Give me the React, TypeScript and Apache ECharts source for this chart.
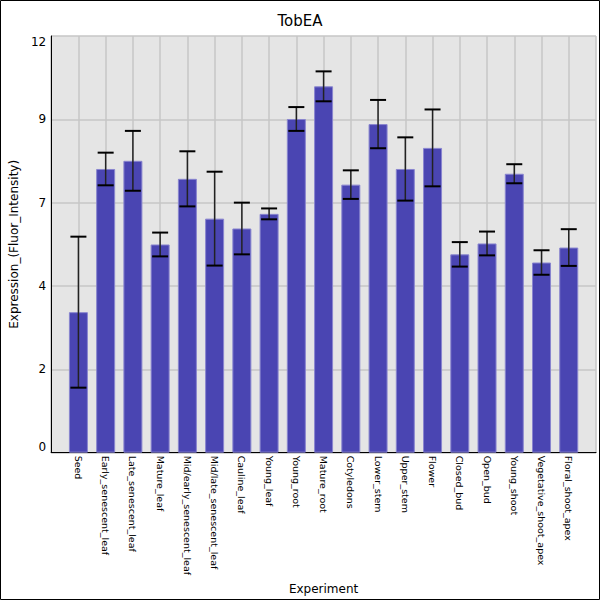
import { useEffect, useRef } from "react";
import * as echarts from "echarts";

// tissue names, in the order they appear on the x axis
const experiments = [
  "Seed", "Early_senescent_leaf", "Late_senescent_leaf", "Mature_leaf",
  "Mid/early_senescent_leaf", "Mid/late_senescent_leaf", "Cauline_leaf",
  "Young_leaf", "Young_root", "Mature_root", "Cotyledons", "Lower_stem",
  "Upper_stem", "Flower", "Closed_bud", "Open_bud", "Young_shoot",
  "Vegetative_shoot_apex", "Floral_shoot_apex",
];

// mean expression per tissue
const means = [
  4.13, 8.34, 8.58, 6.12, 8.05, 6.88, 6.59, 7.02, 9.81, 10.77,
  7.88, 9.66, 8.34, 8.96, 5.83, 6.15, 8.2, 5.59, 6.03,
];

// error (half length of each bar)
const errors = [
  2.22, 0.48, 0.88, 0.35, 0.81, 1.38, 0.76, 0.16, 0.35, 0.44,
  0.42, 0.71, 0.93, 1.13, 0.36, 0.35, 0.28, 0.36, 0.54,
];

const yMax = 12.25;
const yStep = 2.45;

const font = "DejaVu Sans";

export default function App() {
  const chartRef = useRef<HTMLDivElement>(null);

  useEffect(() => {
    document.body.style.margin = "0";
    if (!chartRef.current) return;
    const chart = echarts.init(chartRef.current, undefined, { renderer: "svg" });

    // one empty slot at each end leaves the gap seen left and right of the bars
    const cats = ["", ...experiments, ""];
    const barData = ["-", ...means, "-"];
    const errData = means.map((m, i) => [i + 1, m - errors[i], m + errors[i]]);

    chart.setOption({
      animation: false,
      backgroundColor: "#fff",
      textStyle: { fontFamily: font },
      title: {
        text: "TobEA",
        left: "center",
        top: 13,
        padding: 0,
        textStyle: { fontFamily: font, fontSize: 15, fontWeight: "normal", color: "#000" },
      },
      graphic: [
        {
          type: "rect",
          shape: { x: 0.5, y: 0.5, width: 599, height: 599 },
          style: { fill: "none", stroke: "#000", lineWidth: 1 },
          silent: true,
        },
      ],
      grid: {
        left: 50,
        top: 36,
        right: 4,
        bottom: 146,
        show: true,
        backgroundColor: "#e5e5e5",
        borderWidth: 0,
      },
      xAxis: {
        type: "category",
        data: cats,
        boundaryGap: false,
        name: "Experiment",
        nameLocation: "middle",
        nameGap: 124,
        nameTextStyle: { fontFamily: font, fontSize: 12, color: "#000" },
        axisLine: { lineStyle: { color: "#000", width: 1 } },
        axisTick: { show: false },
        axisLabel: {
          interval: 0,
          rotate: -90,
          margin: 3,
          fontFamily: font,
          fontSize: 9.5,
          color: "#000",
        },
        splitLine: { show: true, interval: 0, lineStyle: { color: "#c6c6c6", width: 1.5 } },
      },
      yAxis: {
        type: "value",
        min: 0,
        max: yMax,
        interval: yStep,
        name: "Expression_(Fluor_Intensity)",
        nameLocation: "middle",
        nameGap: 23,
        nameTextStyle: { fontFamily: font, fontSize: 12, color: "#000" },
        axisLine: { show: true, lineStyle: { color: "#000", width: 1 } },
        axisTick: { show: false },
        axisLabel: {
          margin: 5,
          fontFamily: font,
          fontSize: 12,
          color: "#000",
          verticalAlignMinLabel: "bottom",
          verticalAlignMaxLabel: "top",
          formatter: (v: number) => String(Math.floor(v + 1e-6)),
        },
        splitLine: { show: true, lineStyle: { color: "#c6c6c6", width: 1.5 } },
      },
      series: [
        {
          type: "bar",
          data: barData,
          barWidth: 19,
          itemStyle: { color: "#4a45b2", borderColor: "#8985cf", borderWidth: 1 },
          z: 2,
        },
        {
          type: "custom",
          data: errData,
          encode: { x: 0, y: [1, 2] },
          z: 3,
          renderItem: (_params: any, api: any) => {
            const x = api.value(0);
            const top = api.coord([x, api.value(2)]);
            const bot = api.coord([x, api.value(1)]);
            const half = 8;
            return {
              type: "group",
              children: [
                {
                  type: "line",
                  shape: { x1: top[0], y1: top[1], x2: bot[0], y2: bot[1] },
                  style: { stroke: "#222", lineWidth: 1.5 },
                },
                {
                  type: "line",
                  shape: { x1: top[0] - half, y1: top[1], x2: top[0] + half, y2: top[1] },
                  style: { stroke: "#000", lineWidth: 2 },
                },
                {
                  type: "line",
                  shape: { x1: bot[0] - half, y1: bot[1], x2: bot[0] + half, y2: bot[1] },
                  style: { stroke: "#000", lineWidth: 2 },
                },
              ],
            };
          },
        },
      ],
    });

    return () => {
      chart.dispose();
    };
  }, []);

  return <div ref={chartRef} style={{ width: "600px", height: "600px" }} />;
}
